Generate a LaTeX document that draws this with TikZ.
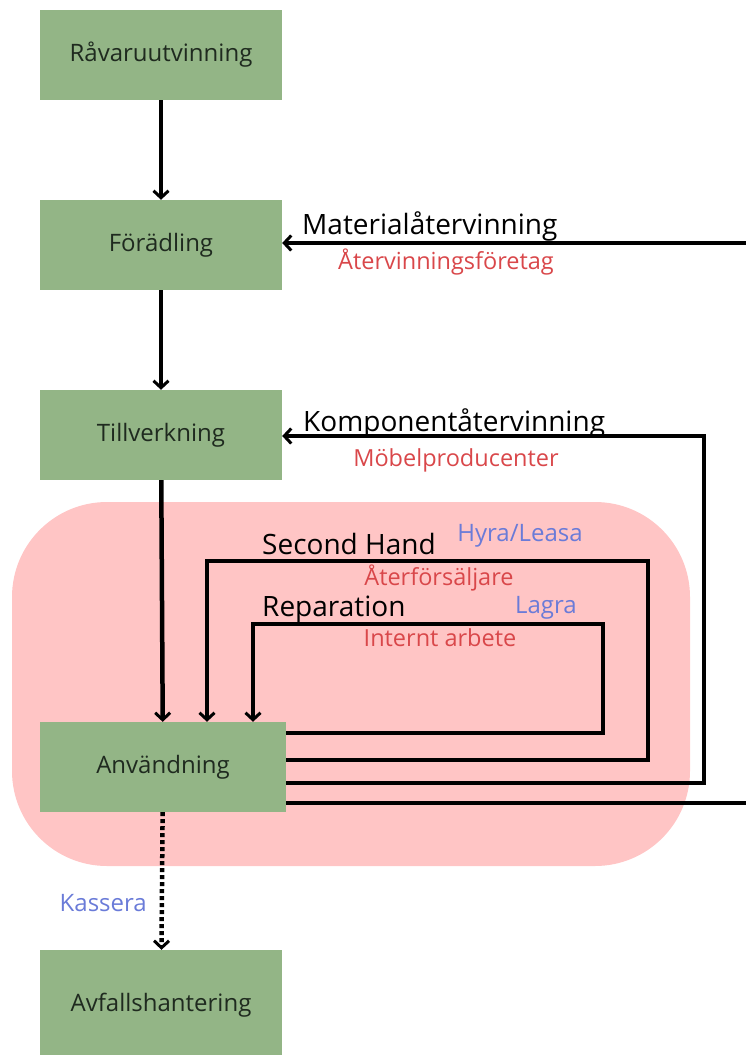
\documentclass[tikz,border=0pt]{standalone}
\usepackage{fontspec}
\setmainfont{Open Sans}
\usetikzlibrary{arrows.meta}
\definecolor{boxgreen}{HTML}{93B586}
\definecolor{zonepink}{HTML}{FFC5C5}
\definecolor{lblred}{HTML}{D9474A}
\definecolor{lblblue}{HTML}{6A7BD8}
\definecolor{boxtext}{HTML}{1F2A1F}
\tikzset{
  stage/.style={fill=boxgreen, minimum width=242pt, minimum height=90pt, inner sep=0pt, text=boxtext, font=\fontsize{24}{28}\selectfont},
  flow/.style={line width=4.5pt, draw=black},
  tip/.style={-{Straight Barb[length=7pt,width=15pt,line width=3pt]}},
  biglbl/.style={font=\fontsize{28}{32}\selectfont, inner sep=0pt},
  redlbl/.style={font=\fontsize{23.5}{27}\selectfont, text=lblred, inner sep=0pt},
  bluelbl/.style={font=\fontsize{24}{28}\selectfont, text=lblblue, inner sep=0pt}
}
\begin{document}
\begin{tikzpicture}[x=1pt,y=-1pt]
\useasboundingbox (0,0) rectangle (746,1055);
\fill[zonepink, rounded corners=95pt] (12,502) rectangle (690,866);

\node[stage] (rav) at (161,55) {Råvaruutvinning};
\node[stage] (for) at (161,245) {Förädling};
\node[stage] (til) at (161,435) {Tillverkning};
\node[stage, minimum width=246pt] (anv) at (163,767) {Användning};
\node[stage, minimum height=110pt] (avf) at (161,1005) {Avfallshantering};

\draw[flow, tip] (rav) -- (for);
\draw[flow, tip] (for) -- (til);
\draw[flow, tip] (til) -- (anv);
\draw[flow, tip, dash pattern=on 4pt off 3pt] (anv) -- (avf);

% Materialåtervinning
\coordinate (matOutR) at (746,803);
\coordinate (matInR) at (746,243);
\draw[flow] ([yshift=-36pt]anv.east) -- (matOutR);
\draw[flow, tip] (matInR) -- (matInR -| for.east);

% Komponentåtervinning
\coordinate (komR) at (704,436);
\draw[flow, tip] ([yshift=-16pt]anv.east) -| (komR) -- (komR -| til.east);

% Second Hand
\coordinate (shR) at (648,561);
\coordinate (shL) at (207,561);
\draw[flow, tip] ([yshift=7pt]anv.east) -| (shR) -- (shL) -- (shL |- anv.north);

% Reparation
\coordinate (repR) at (603,624);
\coordinate (repL) at (253,624);
\draw[flow, tip] ([yshift=34pt]anv.east) -| (repR) -- (repL) -- (repL |- anv.north);

% labels
\node[biglbl, anchor=base west] (lmat) at (302,234) {Materialåtervinning};
\node[redlbl] (lmatr) at (446,262) {Återvinningsföretag};
\node[biglbl, anchor=base west] (lkom) at (303,431) {Komponentåtervinning};
\node[redlbl] (lkomr) at (456,460) {Möbelproducenter};
\node[biglbl, anchor=base west] (lsh) at (262,554) {Second Hand};
\node[bluelbl] (lshb) at (520,536) {Hyra/Leasa};
\node[redlbl] (lshr) at (439,578) {Återförsäljare};
\node[biglbl, anchor=base west] (lrep) at (262,616) {Reparation};
\node[bluelbl] (lrepb) at (546,608) {Lagra};
\node[redlbl] (lrepr) at (440,638) {Internt arbete};
\node[bluelbl, anchor=east] (lkas) at (147,903) {Kassera};
\end{tikzpicture}
\end{document}
